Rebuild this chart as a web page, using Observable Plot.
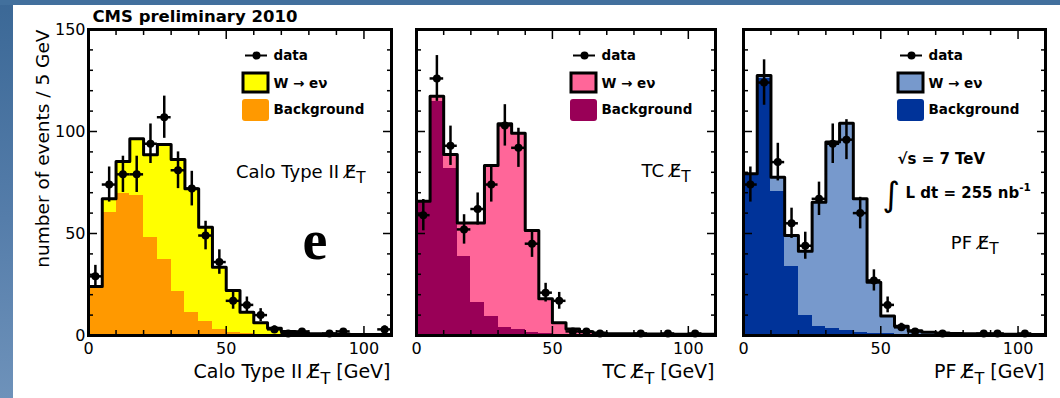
<!DOCTYPE html>
<html><head><meta charset="utf-8">
<script src="https://cdn.jsdelivr.net/npm/d3@7"></script>
<script src="https://cdn.jsdelivr.net/npm/@observablehq/plot@0.6"></script>
<style>
html,body{margin:0;padding:0;}
body{width:1060px;height:398px;overflow:hidden;position:relative;background:linear-gradient(180deg,#3b6896 0%,#557daa 55%,#6e92ba 100%);font-family:"DejaVu Sans",sans-serif;}
#topbar{position:absolute;left:0;top:0;width:1060px;height:5px;background:#42709d;}
#paper{position:absolute;left:13px;top:5px;right:0;bottom:0;background:#fff;}
#charts svg{position:absolute;left:0;top:0;}
</style></head><body>
<div id="topbar"></div><div id="paper"></div>
<div id="charts"></div>
<script>
// ---- data ----
const binLo = [0,5,10,15,20,25,30,35,40,45,50,55,60,65,70,75,80,85,90,95,100,105];
const binWidth = 5;

const caloData  = [29,74,79,79,94,107,81,72,49,36,17,15,10,3,1,2,null,1,2,null,null,3];
const caloTotal = [24,67,85.3,96.4,88.6,93.6,86.3,71.9,53.1,33.5,22.1,11.4,6.2,3.6,2.0,1.2,0.9,0.7,0.6,0.5,0.5,0.5];
const caloBkg   = [23.5,60.4,69.4,68.6,47.8,37.2,21.6,11.4,7.0,2.9,1.6,1.1,0.7,0.6,0.5,0.5,0.5,0.5,0.5,0.5,0.5,0.5];

const tcData  = [59,126,93,52,62,74,103,92,45,21,17,2,2,1,null,null,1,null,1,null,1,null];
const tcTotal = [65.8,117.3,88.7,55.2,55.2,83.3,103.8,99.2,51.5,18,6.2,3.2,1.8,1.2,0.9,0.8,0.7,0.7,0.6,0.6,0.6,0.6];
const tcBkg   = [65,114.5,81.7,38.7,16.3,9.3,4.1,2.8,1.6,0.9,0.7,0.6,0.6,0.5,0.5,0.5,0.5,0.5,0.5,0.5,0.5,0.5];

const pfData  = [74,124,85,55,44,67,94,96,60,27,15,4,2,null,1,null,null,1,1,null,1,null];
const pfTotal = [79.3,127.5,77.6,49,41.3,65.3,94.8,104.1,67,26.1,9.5,4.5,2.3,1.6,1.2,1.0,0.8,0.7,0.6,0.6,0.5,0.5];
const pfBkg   = [79,125.8,70.6,33.8,9.8,4.4,3.6,2.5,1.6,1.1,0.8,0.7,0.6,0.6,0.5,0.5,0.5,0.5,0.5,0.4,0.4,0.4];

const xMajor = [0,50,100];
const xMinor = [10,20,30,40,60,70,80,90];
const yMajor = [0,50,100,150];
const yMinor = [10,20,30,40,60,70,80,90,110,120,130,140];

const xDomain = [0,110];
const yDomain = [0,150];

const legendLabels = ["data", "W \u2192 e\u03BD", "Background"];
const yTitle = "number of events / 5 GeV";
const header = "CMS preliminary 2010";

// ---- layout ----
const W = 1060, H = 398, frameTop = 29, frameBottom = 335;
const panels = [
  {left: 88, right: 391, data: caloData, total: caloTotal, bkg: caloBkg, sig: "#ffff00", bg: "#ff9900",
   xTitle: "Calo Type II E\u0338_{T} [GeV]", tag: "Calo Type II E\u0338_{T}", tagDx: 277, tagDy: 148, first: true},
  {left: 416, right: 715, data: tcData, total: tcTotal, bkg: tcBkg, sig: "#ff6699", bg: "#990057",
   xTitle: "TC E\u0338_{T} [GeV]", tag: "TC E\u0338_{T}", tagDx: 274, tagDy: 147},
  {left: 743, right: 1045, data: pfData, total: pfTotal, bkg: pfBkg, sig: "#7799cc", bg: "#003399",
   xTitle: "PF E\u0338_{T} [GeV]", tag: "PF E\u0338_{T}", tagDx: 255, tagDy: 219, last: true}
];

function makePanel(cfg) {
  const rows = binLo.map((lo, i) => ({lo, hi: lo + binWidth, mid: lo + binWidth / 2,
    total: cfg.total[i], bkg: cfg.bkg[i], n: cfg.data[i]}));
  const pts = rows.filter(d => d.n != null);
  const lastRow = rows[rows.length - 1];
  const outline = rows.map(d => ({x: d.lo, y: d.total})).concat([{x: lastRow.hi, y: lastRow.total}]);
  const fw = cfg.right - cfg.left, fh = frameBottom - frameTop;
  const X = px => xDomain[0] + px * (xDomain[1] - xDomain[0]) / fw;
  const Y = py => yDomain[1] - py * (yDomain[1] - yDomain[0]) / fh;

  const marks = [
    Plot.rect(rows, {x1: "lo", x2: "hi", y1: 0, y2: "total", fill: cfg.sig, shapeRendering: "crispEdges"}),
    Plot.rect(rows, {x1: "lo", x2: "hi", y1: 0, y2: "bkg", fill: cfg.bg, shapeRendering: "crispEdges"}),
    Plot.line(outline, {x: "x", y: "y", curve: "step-after", stroke: "black", strokeWidth: 3}),
    Plot.ruleX(pts, {x: "mid", y1: d => Math.max(0, d.n - Math.sqrt(d.n)), y2: d => d.n + Math.sqrt(d.n), stroke: "black", strokeWidth: 2.5}),
    Plot.ruleY(pts, {y: "n", x1: "lo", x2: "hi", stroke: "black", strokeWidth: 2.5}),
    Plot.dot(pts, {x: "mid", y: "n", r: 4, fill: "black", stroke: "none"}),
    // legend
    Plot.ruleY([{y: Y(26), x1: X(157), x2: X(179)}], {y: "y", x1: "x1", x2: "x2", stroke: "black", strokeWidth: 2}),
    Plot.dot([{x: X(168), y: Y(26)}], {x: "x", y: "y", r: 4, fill: "black", stroke: "none"}),
    Plot.rect([{x1: X(155), x2: X(180), y1: Y(63), y2: Y(44)}], {x1: "x1", x2: "x2", y1: "y1", y2: "y2", fill: cfg.sig, stroke: "black", strokeWidth: 3}),
    Plot.rect([{x1: X(154), x2: X(181), y1: Y(92), y2: Y(70)}], {x1: "x1", x2: "x2", y1: "y1", y2: "y2", fill: cfg.bg, rx: 3}),
    Plot.text([legendLabels[0]], {frameAnchor: "top-left", dx: 185, dy: 26, textAnchor: "start", lineAnchor: "middle", fontWeight: "bold", fontSize: 13.5}),
    Plot.text([legendLabels[1]], {frameAnchor: "top-left", dx: 185, dy: 54, textAnchor: "start", lineAnchor: "middle", fontWeight: "bold", fontSize: 13.5}),
    Plot.text([legendLabels[2]], {frameAnchor: "top-left", dx: 185, dy: 80, textAnchor: "start", lineAnchor: "middle", fontWeight: "bold", fontSize: 13.5}),
    // panel tag
    Plot.text([cfg.tag], {frameAnchor: "top-left", dx: cfg.tagDx, dy: cfg.tagDy, textAnchor: "end", lineAnchor: "bottom", fontSize: 18}),
    // x title
    Plot.text([cfg.xTitle], {frameAnchor: "bottom-right", dx: -1, dy: 42, textAnchor: "end", lineAnchor: "bottom", fontSize: 19}),
    Plot.frame({stroke: "black", strokeWidth: 3}),
    // ticks (inward, all four sides)
    Plot.axisX(xMajor, {anchor: "bottom", tickSize: -9, tickFormat: () => "", strokeWidth: 1.5, label: null}),
    Plot.axisX(xMinor, {anchor: "bottom", tickSize: -5, tickFormat: () => "", strokeWidth: 1.5, label: null}),
    Plot.axisX(xMajor, {anchor: "top", tickSize: -9, tickFormat: () => "", strokeWidth: 1.5, label: null}),
    Plot.axisX(xMinor, {anchor: "top", tickSize: -5, tickFormat: () => "", strokeWidth: 1.5, label: null}),
    Plot.axisY(yMajor, {anchor: "left", tickSize: -9, tickFormat: () => "", strokeWidth: 1.5, label: null}),
    Plot.axisY(yMinor, {anchor: "left", tickSize: -5, tickFormat: () => "", strokeWidth: 1.5, label: null}),
    Plot.axisY(yMajor, {anchor: "right", tickSize: -9, tickFormat: () => "", strokeWidth: 1.5, label: null}),
    Plot.axisY(yMinor, {anchor: "right", tickSize: -5, tickFormat: () => "", strokeWidth: 1.5, label: null}),
    Plot.axisX(xMajor, {anchor: "bottom", tickSize: 0, tickPadding: 7, fontSize: 16, label: null})
  ];
  if (cfg.first) {
    marks.push(
      Plot.axisY(yMajor, {anchor: "left", tickSize: 0, tickPadding: 3, fontSize: 16, label: null}),
      Plot.text([yTitle], {frameAnchor: "top-left", rotate: -90, textAnchor: "end", lineAnchor: "middle", dx: -45, dy: 0, fontSize: 18.5}),
      Plot.text([header], {frameAnchor: "top-left", dx: 4, dy: -8, textAnchor: "start", lineAnchor: "bottom", fontWeight: "bold", fontSize: 16.5}),
      Plot.text(["e"], {frameAnchor: "top-left", dx: 214, dy: 229, textAnchor: "start", lineAnchor: "bottom", fontWeight: "bold", fontSize: 56, fontFamily: "Liberation Serif, serif"})
    );
  }
  if (cfg.last) {
    marks.push(
      Plot.text(["\u221As = 7 TeV"], {frameAnchor: "top-left", dx: 154, dy: 134, textAnchor: "start", lineAnchor: "bottom", fontWeight: "bold", fontSize: 15}),
      Plot.text(["\u222B"], {frameAnchor: "top-left", dx: 139, dy: 176, textAnchor: "start", lineAnchor: "bottom", fontSize: 34, fontFamily: '"DejaVu Sans", sans-serif'}),
      Plot.text(["L dt = 255 nb^{-1}"], {frameAnchor: "top-left", dx: 162, dy: 168, textAnchor: "start", lineAnchor: "bottom", fontWeight: "bold", fontSize: 15})
    );
  }
  return Plot.plot({
    width: W, height: H,
    marginLeft: cfg.left, marginRight: W - cfg.right,
    marginTop: frameTop, marginBottom: H - frameBottom,
    x: {domain: xDomain},
    y: {domain: yDomain},
    style: {background: "transparent", overflow: "visible", fontFamily: '"DejaVu Sans", sans-serif', fontSize: "16px", color: "black"},
    marks
  });
}

const svgNS = "http://www.w3.org/2000/svg";
function richify(svg) {
  svg.querySelectorAll("text").forEach(t => {
    const s = t.textContent;
    if (!/[_^]\{/.test(s)) return;
    const fs = parseFloat(getComputedStyle(t).fontSize) || 16;
    while (t.firstChild) t.removeChild(t.firstChild);
    let cur = 0;
    const add = (txt, off, scale) => {
      const ts = document.createElementNS(svgNS, "tspan");
      ts.setAttribute("dy", (off - cur).toFixed(2));
      cur = off;
      if (scale !== 1) ts.setAttribute("font-size", (fs * scale).toFixed(1));
      ts.textContent = txt;
      t.appendChild(ts);
    };
    const re = /([_^])\{([^}]*)\}/g;
    let last = 0, m;
    while ((m = re.exec(s))) {
      if (m.index > last) add(s.slice(last, m.index), 0, 1);
      if (m[1] === "_") add(m[2], fs * 0.32, 0.85); else add(m[2], -fs * 0.42, 0.7);
      last = re.lastIndex;
    }
    if (last < s.length) add(s.slice(last), 0, 1);
  });
}

const host = document.getElementById("charts");
panels.forEach(p => {
  const svg = makePanel(p);
  host.appendChild(svg);
  richify(svg);
});
</script></body></html>
